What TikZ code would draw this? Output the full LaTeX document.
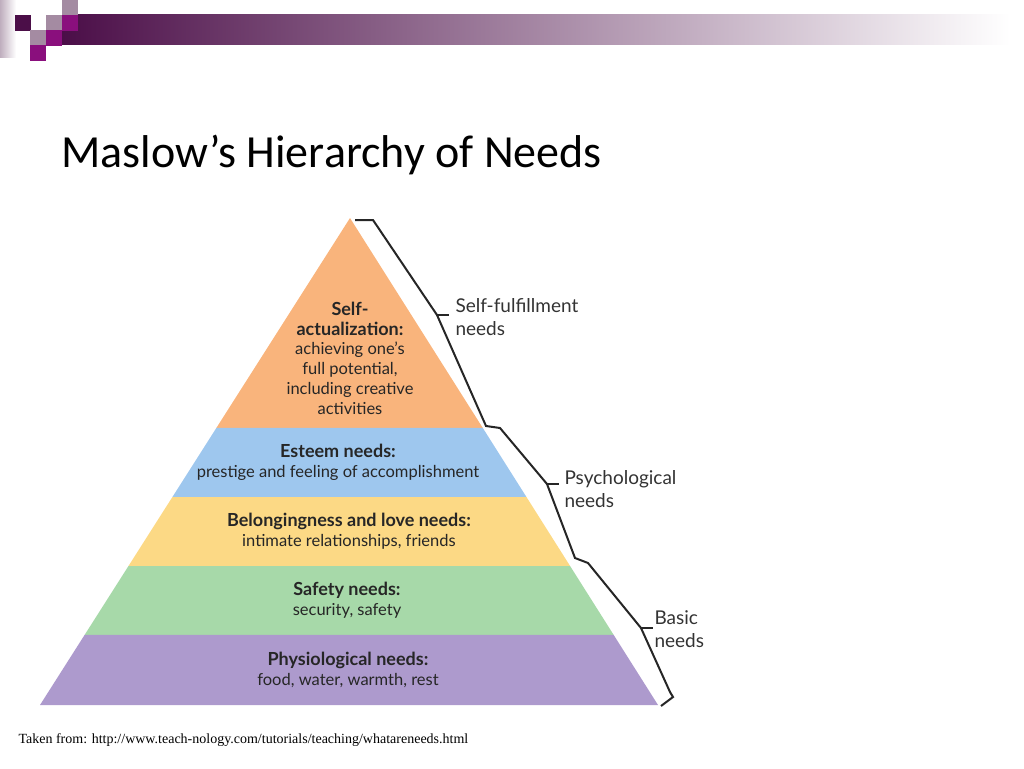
\documentclass[tikz,border=0pt]{standalone}
\usepackage{fontspec}
\setmainfont{Liberation Serif}
\newfontfamily\titlefont{Carlito}
\newfontfamily\pyrfont{Lato}
\usetikzlibrary{calc, positioning}

\definecolor{dkpurple}{HTML}{4B0E48}
\definecolor{magpurple}{HTML}{8A0F7D}
\definecolor{gypurple}{HTML}{A48BA2}
\definecolor{selfcol}{HTML}{F9B47C}
\definecolor{esteemcol}{HTML}{9EC7EE}
\definecolor{lovecol}{HTML}{FCD985}
\definecolor{safecol}{HTML}{A7D9A9}
\definecolor{physcol}{HTML}{AD9ACD}

\newcommand{\hd}[1]{{\fontsize{18}{20}\selectfont\bfseries #1}}

\tikzset{
	sq/.style = {minimum size=15.5pt, inner sep=0pt, anchor=north west},
	level/.style = {align=center, font=\pyrfont\fontsize{16.5}{20}\selectfont, text=black!85},
	side/.style = {align=left, anchor=west, font=\pyrfont\fontsize{19}{23}\selectfont, text=black!80},
	brace/.style = {line width=2pt, black!85, line join=miter}
}

\begin{document}
\begin{tikzpicture}[x=1pt, y=-1pt]
	\useasboundingbox (0,0) rectangle (1024,768);

	% bandeau du haut
	\shade[left color=gypurple!70, right color=white] (0,0) rectangle (16,58);
	\shade[left color=dkpurple, right color=white] (62,15) rectangle (1010,45);
	\node[sq, fill=dkpurple]  at (15,15) {};
	\node[sq, fill=gypurple]  at (46,15) {};
	\node[sq, fill=gypurple]  at (62,0)  {};
	\node[sq, fill=magpurple] at (62,15) {};
	\node[sq, fill=gypurple]  at (30,30) {};
	\node[sq, fill=magpurple] at (46,30) {};
	\node[sq, fill=magpurple] at (30,45) {};

	% titre
	\node[anchor=west, font=\titlefont\fontsize{46}{50}\selectfont] (title) at (58,155) {Maslow’s Hierarchy of Needs};

	% pyramide
	\coordinate (apex) at (350,218);
	\coordinate (bl) at (40,705);
	\coordinate (br) at (658,705);
	\foreach \name/\t in {a/0.431, b/0.573, c/0.715, d/0.856} {
		\coordinate (l\name) at ($(apex)!\t!(bl)$);
		\coordinate (r\name) at ($(apex)!\t!(br)$);
	}
	\fill[selfcol]   (apex) -- (la) -- (ra) -- cycle;
	\fill[esteemcol] (la) -- (lb) -- (rb) -- (ra) -- cycle;
	\fill[lovecol]   (lb) -- (lc) -- (rc) -- (rb) -- cycle;
	\fill[safecol]   (lc) -- (ld) -- (rd) -- (rc) -- cycle;
	\fill[physcol]   (ld) -- (bl) -- (br) -- (rd) -- cycle;

	\node[level] (self) at (350,358) {\hd{Self-}\\\hd{actualization:}\\[-1pt]achieving one’s\\full potential,\\including creative\\activities};
	\node[level] (esteem) at (338,462) {\hd{Esteem needs:}\\prestige and feeling of accomplishment};
	\node[level] (love) at (349,531) {\hd{Belongingness and love needs:}\\intimate relationships, friends};
	\node[level] (safe) at (347,600) {\hd{Safety needs:}\\security, safety};
	\node[level] (phys) at (348,670) {\hd{Physiological needs:}\\food, water, warmth, rest};

	% accolades
	\coordinate (b1s) at (355,220);
	\coordinate (b1t) at (437,315);
	\coordinate (b2s) at (500,428);
	\coordinate (b2t) at (547,484);
	\coordinate (b3s) at (588,563);
	\coordinate (b3t) at (641,628);
	\draw[brace] (b1s) -- ++(18,0) -- (b1t) -- (486,426) -- (b2s) -- (b2t) -- (575,558) -- (b3s) -- (b3t) -- (670,692) -- (673,697) -- (661,706);
	\draw[brace] (b1t) -- ++(12,0);
	\draw[brace] (b2t) -- ++(12,0);
	\draw[brace] (b3t) -- ++(12,0);

	\node[side] (fulfil) at (452,317) {Self-fulfillment\\needs};
	\node[side] (psych) at (561,489) {Psychological\\needs};
	\node[side] (basic) at (651,629) {Basic\\needs};

	% source
	\node[anchor=west, font=\fontsize{14}{16}\selectfont] (source) at (15,740) {Taken from: http://www.teach-nology.com/tutorials/teaching/whatareneeds.html};
\end{tikzpicture}
\end{document}
